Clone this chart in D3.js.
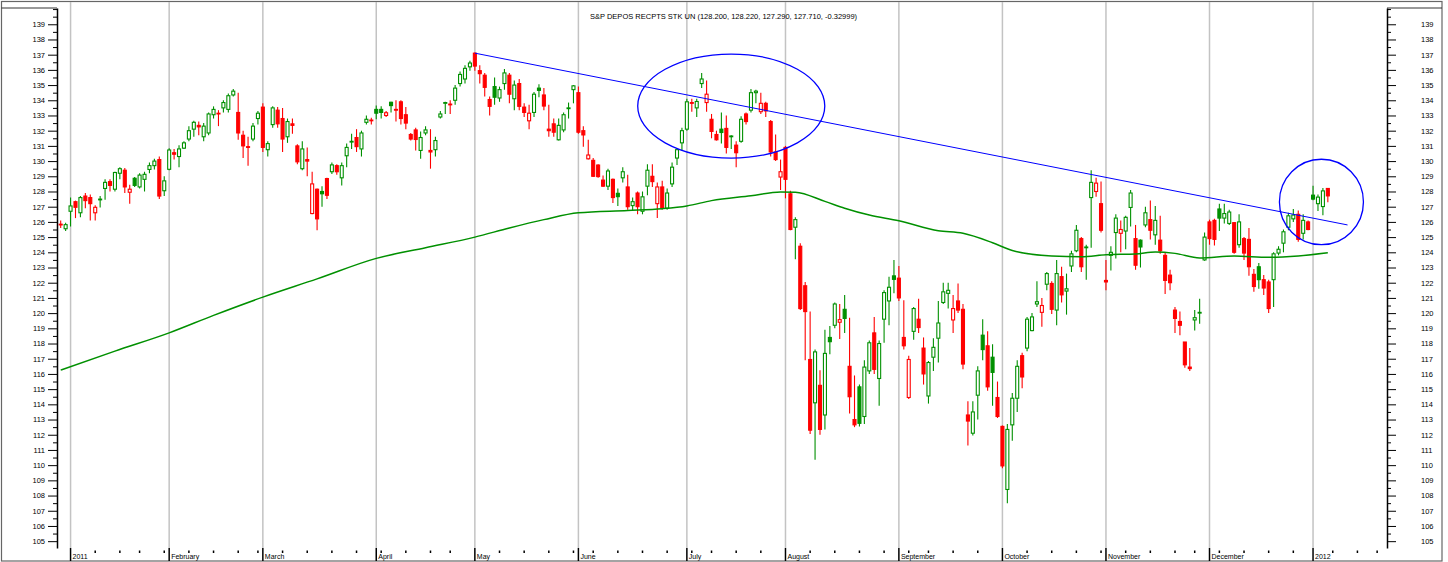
<!DOCTYPE html>
<html>
<head>
<meta charset="utf-8">
<script src="https://cdn.jsdelivr.net/npm/d3@7"></script>
<style>
  body { margin: 0; background: #fff; }
  svg { display: block; font-family: "Liberation Sans", Arial, sans-serif; }
</style>
</head>
<body>
<script>
const titulo = "S&P DEPOS RECPTS STK UN (128.200, 128.220, 127.290, 127.710, -0.32999)";

// Cierre del día anterior a la primera vela (para el color)
const cierrePrevio = 126.0;

// [fecha, apertura, máximo, mínimo, cierre]
const velas = [
  ["2010-12-30",125.85,126.1,125.6,125.8], ["2010-12-31",125.55,125.95,125.4,125.82],
  ["2011-01-03",126.7,127.6,125.7,127.05], ["2011-01-04",127.33,127.4,126.25,126.96],
  ["2011-01-05",126.6,127.7,126.3,127.6], ["2011-01-06",127.7,127.9,126.9,127.4],
  ["2011-01-07",127.6,127.8,126.1,127.2], ["2011-01-10",126.6,127.1,126.1,126.96],
  ["2011-01-11",127.45,127.7,126.95,127.5], ["2011-01-12",128.2,128.8,127.45,128.6],
  ["2011-01-13",128.65,128.8,128.0,128.4], ["2011-01-14",128.15,129.3,128.0,129.25],
  ["2011-01-18",129.2,129.6,128.8,129.5], ["2011-01-19",129.4,129.55,127.9,128.3],
  ["2011-01-20",127.95,128.45,127.2,128.15], ["2011-01-21",128.87,128.95,128.3,128.4],
  ["2011-01-24",128.3,129.2,128.2,129.08], ["2011-01-25",128.8,129.3,128.0,129.13],
  ["2011-01-26",129.45,129.9,129.2,129.7], ["2011-01-27",129.7,130.15,129.45,130.0],
  ["2011-01-28",130.1,130.3,127.5,127.7], ["2011-01-31",128.05,129.0,127.7,128.7],
  ["2011-02-01",129.46,130.85,129.4,130.73], ["2011-02-02",130.55,130.8,130.1,130.45],
  ["2011-02-03",130.3,131.05,129.6,130.8], ["2011-02-04",130.85,131.3,130.8,131.2],
  ["2011-02-07",131.45,132.3,131.3,132.0], ["2011-02-08",132.1,132.65,131.6,132.55],
  ["2011-02-09",132.35,132.6,131.7,132.25], ["2011-02-10",131.6,132.5,131.3,132.3],
  ["2011-02-11",131.85,133.2,131.7,133.1], ["2011-02-14",133.05,133.6,132.8,133.4],
  ["2011-02-15",133.15,133.35,132.3,133.1], ["2011-02-16",133.5,134.0,133.2,133.85],
  ["2011-02-17",133.4,134.45,133.2,134.3], ["2011-02-18",134.35,134.75,134.25,134.6],
  ["2011-02-22",133.2,134.5,131.4,131.85], ["2011-02-23",131.7,132.0,130.2,131.0],
  ["2011-02-24",130.95,131.6,129.7,130.9], ["2011-02-25",131.45,132.5,131.3,132.3],
  ["2011-02-28",132.8,133.3,132.4,133.15], ["2011-03-01",133.55,133.8,130.6,130.9],
  ["2011-03-02",130.75,131.3,130.3,131.15], ["2011-03-03",132.4,133.6,132.2,133.5],
  ["2011-03-04",133.35,133.55,132.2,132.45], ["2011-03-07",132.8,133.5,130.6,131.45],
  ["2011-03-08",131.6,132.8,131.2,132.6], ["2011-03-09",132.45,132.8,131.8,132.35],
  ["2011-03-10",131.0,131.1,129.8,129.95], ["2011-03-11",129.5,131.3,129.4,130.8],
  ["2011-03-14",130.1,130.9,129.0,130.0], ["2011-03-15",126.55,129.3,126.5,128.5],
  ["2011-03-16",128.15,128.2,125.45,126.2], ["2011-03-17",128.0,128.35,127.0,127.85],
  ["2011-03-18",128.85,128.9,127.5,127.75], ["2011-03-21",129.3,129.9,129.15,129.75],
  ["2011-03-22",129.7,129.8,129.1,129.3], ["2011-03-23",128.9,129.9,128.4,129.7],
  ["2011-03-24",130.35,131.15,129.6,130.9], ["2011-03-25",131.25,131.8,130.8,131.3],
  ["2011-03-28",131.55,132.1,130.6,130.95], ["2011-03-29",130.8,132.0,130.3,131.85],
  ["2011-03-30",132.55,133.0,132.4,132.75], ["2011-03-31",132.7,132.85,132.4,132.65],
  ["2011-04-01",133.4,133.65,132.75,133.15], ["2011-04-04",133.4,133.6,132.8,133.2],
  ["2011-04-05",133.0,133.3,132.9,133.18], ["2011-04-06",133.87,133.9,133.2,133.65],
  ["2011-04-07",133.4,134.0,132.6,133.35], ["2011-04-08",133.9,134.0,132.4,132.8],
  ["2011-04-11",133.05,133.55,132.1,132.5], ["2011-04-12",131.75,131.85,131.35,131.45],
  ["2011-04-13",132.05,132.2,130.7,131.42], ["2011-04-14",130.7,131.95,130.15,131.55],
  ["2011-04-15",131.85,132.3,131.7,132.05], ["2011-04-18",130.7,132.1,129.5,130.6],
  ["2011-04-19",130.75,131.6,130.3,131.35], ["2011-04-20",132.9,133.3,132.8,133.1],
  ["2011-04-21",133.8,133.9,133.1,133.85], ["2011-04-25",133.75,134.0,133.1,133.7],
  ["2011-04-26",134.0,135.0,133.7,134.8], ["2011-04-27",135.1,135.9,134.9,135.7],
  ["2011-04-28",135.4,136.3,135.1,136.1], ["2011-04-29",136.2,136.6,135.95,136.45],
  ["2011-05-02",137.1,137.15,135.95,136.25], ["2011-05-03",135.95,136.3,135.1,135.75],
  ["2011-05-04",135.65,135.8,134.25,134.85], ["2011-05-05",134.05,134.25,133.0,133.6],
  ["2011-05-06",134.9,135.5,133.7,134.2], ["2011-05-09",134.15,134.9,133.9,134.7],
  ["2011-05-10",135.1,136.05,134.7,135.8], ["2011-05-11",135.65,135.8,133.8,134.4],
  ["2011-05-12",134.1,135.3,133.35,135.0], ["2011-05-13",135.1,135.4,133.35,133.6],
  ["2011-05-16",133.55,133.8,132.9,133.2], ["2011-05-17",132.65,133.7,132.1,133.15],
  ["2011-05-18",133.2,134.55,132.9,134.4], ["2011-05-19",134.8,135.05,134.2,134.65],
  ["2011-05-20",134.35,134.8,133.35,133.62], ["2011-05-23",132.1,133.7,131.6,132.0],
  ["2011-05-24",132.45,132.8,131.6,131.9], ["2011-05-25",131.4,132.8,131.35,132.35],
  ["2011-05-26",132.05,133.2,131.9,133.05], ["2011-05-27",133.45,133.85,132.8,133.5],
  ["2011-05-31",134.7,135.0,133.8,134.95], ["2011-06-01",134.5,134.9,131.8,131.9],
  ["2011-06-02",132.0,132.3,130.95,131.72], ["2011-06-03",130.15,131.4,130.1,130.4],
  ["2011-06-06",130.05,130.2,128.95,129.0], ["2011-06-07",129.74,129.8,128.9,128.98],
  ["2011-06-08",128.75,129.05,128.3,128.35], ["2011-06-09",128.35,129.5,128.1,129.35],
  ["2011-06-10",128.8,128.85,127.25,127.6], ["2011-06-13",127.88,128.2,127.05,127.66],
  ["2011-06-14",128.9,129.6,128.6,129.3], ["2011-06-15",128.3,129.1,126.8,127.0],
  ["2011-06-16",127.07,127.6,126.75,127.33], ["2011-06-17",127.9,128.0,126.5,127.0],
  ["2011-06-20",126.7,128.0,126.5,127.65], ["2011-06-21",128.35,129.8,127.75,129.4],
  ["2011-06-22",129.0,129.8,128.3,128.65], ["2011-06-23",127.2,128.6,126.25,128.3],
  ["2011-06-24",128.3,128.7,126.8,126.9], ["2011-06-27",126.9,128.2,126.8,127.9],
  ["2011-06-28",128.5,129.9,128.3,129.6], ["2011-06-29",130.2,130.85,129.75,130.75],
  ["2011-06-30",131.2,132.2,130.7,132.0], ["2011-07-01",132.1,134.1,132.0,133.9],
  ["2011-07-05",133.85,134.1,133.25,133.8], ["2011-07-06",133.5,134.1,132.9,133.92],
  ["2011-07-07",135.1,135.8,134.8,135.4], ["2011-07-08",133.85,135.3,133.25,134.4],
  ["2011-07-11",132.75,133.1,131.5,131.95], ["2011-07-12",131.75,132.0,131.35,131.4],
  ["2011-07-13",132.1,133.2,131.15,131.88], ["2011-07-14",132.15,133.0,130.5,130.9],
  ["2011-07-15",131.6,131.7,130.8,131.65], ["2011-07-18",131.05,131.3,129.6,130.55],
  ["2011-07-19",131.3,132.95,131.2,132.75], ["2011-07-20",133.1,133.2,132.4,132.6],
  ["2011-07-21",133.35,134.75,133.2,134.5], ["2011-07-22",134.5,134.7,133.8,134.6],
  ["2011-07-25",133.25,134.5,133.1,133.8], ["2011-07-26",133.8,133.9,132.9,133.3],
  ["2011-07-27",132.6,132.7,130.3,130.6], ["2011-07-28",130.6,131.75,130.0,130.1],
  ["2011-07-29",128.95,130.1,128.1,129.3], ["2011-08-01",130.9,131.0,127.55,128.8],
  ["2011-08-02",127.85,128.05,125.45,125.5], ["2011-08-03",125.65,126.3,123.55,126.15],
  ["2011-08-04",124.4,124.6,120.2,120.3], ["2011-08-05",121.8,122.05,116.9,120.1],
  ["2011-08-08",116.95,120.1,112.05,112.3], ["2011-08-09",114.1,117.6,110.35,117.45],
  ["2011-08-10",115.25,116.25,112.0,112.35], ["2011-08-11",113.3,118.9,112.35,117.35],
  ["2011-08-12",118.4,119.15,117.3,118.12], ["2011-08-15",119.2,120.7,119.0,120.6],
  ["2011-08-16",119.4,120.6,118.3,119.57], ["2011-08-17",120.25,121.2,118.7,119.65],
  ["2011-08-18",116.5,119.7,113.4,114.5], ["2011-08-19",113.0,115.9,112.5,112.65],
  ["2011-08-22",115.15,115.3,112.55,112.75], ["2011-08-23",113.2,116.9,112.7,116.45],
  ["2011-08-24",116.2,118.2,116.0,118.05], ["2011-08-25",118.7,119.75,116.0,116.3],
  ["2011-08-26",115.7,118.2,113.9,118.0], ["2011-08-29",119.6,121.5,118.05,121.35],
  ["2011-08-30",120.8,122.4,119.2,121.7], ["2011-08-31",122.45,123.5,121.3,122.22],
  ["2011-09-01",122.3,123.1,120.8,121.0], ["2011-09-02",118.4,120.85,117.6,117.85],
  ["2011-09-06",114.45,117.2,114.35,116.95], ["2011-09-07",118.8,120.4,118.25,120.3],
  ["2011-09-08",119.6,120.95,118.7,119.05], ["2011-09-09",117.7,118.4,115.3,116.0],
  ["2011-09-12",114.55,116.85,114.05,116.75], ["2011-09-13",117.1,118.35,116.2,117.75],
  ["2011-09-14",118.35,120.8,116.75,119.35], ["2011-09-15",120.7,122.0,120.6,121.4],
  ["2011-09-16",121.3,122.0,120.3,121.5], ["2011-09-19",119.55,121.2,118.7,120.3],
  ["2011-09-20",120.8,121.95,120.0,120.2], ["2011-09-21",120.25,120.6,116.3,116.65],
  ["2011-09-22",113.3,114.2,111.3,112.9], ["2011-09-23",112.1,114.2,111.95,113.5],
  ["2011-09-26",114.6,116.5,113.0,116.2], ["2011-09-27",118.55,119.6,116.9,117.6],
  ["2011-09-28",117.85,118.8,114.9,115.15], ["2011-09-29",117.1,117.95,113.9,116.1],
  ["2011-09-30",114.45,115.5,113.1,113.2], ["2011-10-03",112.55,112.6,109.8,109.95],
  ["2011-10-04",108.4,112.7,107.5,112.35], ["2011-10-05",112.65,114.75,111.6,114.4],
  ["2011-10-06",114.4,116.9,113.5,116.5], ["2011-10-07",117.2,117.4,115.05,115.8],
  ["2011-10-10",117.7,119.75,117.5,119.6], ["2011-10-11",118.85,120.0,118.8,119.75],
  ["2011-10-12",120.6,122.1,120.4,120.75], ["2011-10-13",120.05,121.0,119.1,120.5],
  ["2011-10-14",121.9,122.7,121.5,122.6], ["2011-10-17",121.95,122.1,119.95,120.25],
  ["2011-10-18",120.2,123.5,119.2,122.6], ["2011-10-19",122.4,123.05,120.7,121.2],
  ["2011-10-20",121.45,122.6,119.9,121.6], ["2011-10-21",123.1,124.1,122.7,123.9],
  ["2011-10-24",124.1,125.8,124.0,125.45], ["2011-10-25",124.9,125.0,122.7,123.05],
  ["2011-10-26",124.3,124.5,122.2,124.35], ["2011-10-27",127.6,129.4,124.3,128.6],
  ["2011-10-28",128.0,128.9,127.65,128.55], ["2011-10-31",127.2,128.65,125.3,125.45],
  ["2011-11-01",122.15,123.5,121.5,122.05], ["2011-11-02",123.8,124.4,122.8,124.0],
  ["2011-11-03",125.3,126.5,123.6,126.25], ["2011-11-04",125.25,126.1,124.0,125.5],
  ["2011-11-07",125.4,126.4,124.2,126.3], ["2011-11-08",126.95,128.1,125.7,127.9],
  ["2011-11-09",124.9,125.8,122.85,123.15], ["2011-11-10",124.8,124.85,123.0,124.35],
  ["2011-11-11",125.8,127.0,125.65,126.6], ["2011-11-14",126.15,127.4,124.85,125.45],
  ["2011-11-15",125.15,127.05,124.5,126.1], ["2011-11-16",124.8,126.4,123.9,124.1],
  ["2011-11-17",123.8,124.0,121.25,122.15], ["2011-11-18",122.5,122.85,121.5,122.0],
  ["2011-11-21",120.2,120.4,118.7,119.65], ["2011-11-22",119.45,120.1,118.55,119.2],
  ["2011-11-23",118.1,118.1,116.4,116.6], ["2011-11-25",116.45,117.7,116.2,116.35],
  ["2011-11-28",119.55,120.2,118.85,119.7], ["2011-11-29",120.0,120.95,119.3,120.05],
  ["2011-11-30",123.5,125.3,123.45,125.0], ["2011-12-01",126.0,126.15,124.5,124.9],
  ["2011-12-02",126.1,126.2,124.45,124.85], ["2011-12-05",126.85,127.2,125.4,126.25],
  ["2011-12-06",126.25,127.2,125.9,126.55], ["2011-12-07",125.9,126.8,125.8,126.65],
  ["2011-12-08",125.95,126.0,123.9,124.0], ["2011-12-09",124.5,126.5,124.3,126.0],
  ["2011-12-12",124.9,125.0,123.5,123.95], ["2011-12-13",124.85,125.6,122.45,123.05],
  ["2011-12-14",122.55,122.9,121.4,121.75], ["2011-12-15",123.05,123.3,121.6,122.2],
  ["2011-12-16",122.2,122.5,121.2,121.65], ["2011-12-19",122.05,122.2,120.0,120.3],
  ["2011-12-20",122.2,124.0,120.4,123.9], ["2011-12-21",123.95,124.4,123.8,124.2],
  ["2011-12-22",124.6,125.5,124.0,125.35], ["2011-12-23",125.65,126.6,125.45,126.4],
  ["2011-12-27",126.2,126.85,126.0,126.45], ["2011-12-28",126.5,126.75,124.7,124.85],
  ["2011-12-29",125.25,126.5,124.85,126.1], ["2011-12-30",126.0,126.1,125.45,125.5],
  ["2012-01-03",127.76,128.38,127.43,127.5], ["2012-01-04",127.2,127.81,126.71,127.63],
  ["2012-01-05",127.01,128.23,126.43,128.04], ["2012-01-06",128.2,128.22,127.29,127.71]
];

// Media móvil: índice de la vela y valor
const mediaIdx = [0, 11, 22, 31, 41, 52, 64, 74, 84, 91, 98, 105, 115, 122, 127, 132, 140, 146, 149, 155,
  159, 164, 170, 178, 183, 189, 193, 201, 207, 212, 218, 222, 226, 231, 238, 245, 251, 257];
const mediaValor = [116.25, 117.5, 118.7, 119.85, 121.05, 122.25, 123.6, 124.3, 125.0, 125.6, 126.15, 126.6,
  126.75, 126.87, 127.05, 127.4, 127.72, 127.97, 127.95, 127.35, 126.9, 126.45, 126.08, 125.42, 125.25,
  124.63, 124.12, 123.76, 123.71, 123.84, 123.89, 124.02, 123.93, 123.63, 123.76, 123.67, 123.76, 123.97];

// Línea de tendencia y elipses dibujadas a mano
const tendenciaIdx = [84, 261];
const tendenciaValor = [137.1, 125.8];
const elipseIdx = [136.0, 255.7];
const elipseValor = [133.62, 127.31];
const elipseRadioIdx = [18.97, 8.52];
const elipseRadioValor = [3.42, 2.81];

// Eje de tiempo
const etiquetasMes = ["2011", "February", "March", "April", "May", "June", "July", "August",
  "September", "October", "November", "December", "2012"];
const fechasMes = ["2011-01-03", "2011-02-01", "2011-03-01", "2011-04-01", "2011-05-02", "2011-06-01",
  "2011-07-01", "2011-08-01", "2011-09-01", "2011-10-03", "2011-11-01", "2011-12-01", "2012-01-03"];
const semanasExtra = [258, 263, 267];

// Eje de precios
const ticksY = [105, 106, 107, 108, 109, 110, 111, 112, 113, 114, 115, 116, 117, 118, 119, 120, 121, 122,
  123, 124, 125, 126, 127, 128, 129, 130, 131, 132, 133, 134, 135, 136, 137, 138, 139];
const ticksMenores = ticksY.map(t => t + 0.5);

const verde = "#009000";
const rojo = "#ff0000";
const azul = "#0000ff";

const svg = d3.select("body")
  .append("svg")
  .attr("width", 1448)
  .attr("height", 562);

const escalaX = d3.scaleLinear().domain([-0.75, 269]).range([57, 1387]);
const escalaY = d3.scaleLinear().domain([104.55, 140.07]).range([548, 8]);

const indicePorFecha = new Map(velas.map((v, i) => [v[0], i]));

// Marco
svg.append("rect")
  .attr("x", 1.5).attr("y", 1.5)
  .attr("width", 1440.5).attr("height", 559.5)
  .attr("fill", "none")
  .attr("stroke", "#666")
  .attr("stroke-width", 1.2);

svg.append("line")
  .attr("x1", 1.5).attr("x2", 57).attr("y1", 8).attr("y2", 8)
  .attr("stroke", "#333");
svg.append("line")
  .attr("x1", 1387).attr("x2", 1442).attr("y1", 8).attr("y2", 8)
  .attr("stroke", "#333");

// Líneas de mes
const meses = svg.append("g")
  .selectAll("g")
  .data(fechasMes)
  .join("g")
  .attr("transform", f => `translate(${escalaX(indicePorFecha.get(f))},0)`);

meses.append("line")
  .attr("y1", 2).attr("y2", 548)
  .attr("stroke", "#c3c3c3")
  .attr("stroke-width", 1.5);

meses.append("line")
  .attr("y1", 548).attr("y2", 561)
  .attr("stroke", "#000")
  .attr("stroke-width", 1.5);

meses.append("text")
  .attr("x", 2)
  .attr("y", 558.5)
  .attr("font-size", 7)
  .attr("fill", "#000")
  .text((f, i) => etiquetasMes[i]);

// Marcas semanales: primer día de cada semana que no abre mes
const inicioSemana = [];
velas.forEach((v, i) => {
  if (i === 0) return;
  const hoy = new Date(v[0] + "T00:00:00");
  const ayer = new Date(velas[i - 1][0] + "T00:00:00");
  const nuevaSemana = hoy.getDay() < ayer.getDay() || (hoy - ayer) / 864e5 >= 7;
  const nuevoMes = hoy.getMonth() !== ayer.getMonth();
  if (nuevaSemana && !nuevoMes) inicioSemana.push(i);
});

svg.append("g")
  .selectAll("rect")
  .data(inicioSemana.concat(semanasExtra))
  .join("rect")
  .attr("x", i => escalaX(i) - 0.75)
  .attr("y", 550.5)
  .attr("width", 1.5)
  .attr("height", 2.5)
  .attr("fill", "#000");

// Ejes de precios
function estiloEje(g) {
  g.attr("font-size", 7.5).attr("font-family", null);
  g.select(".domain").attr("stroke-width", 1.5);
  g.selectAll("text").attr("fill", "#000");
}

svg.append("g")
  .attr("transform", "translate(57,0)")
  .call(d3.axisLeft(escalaY).tickValues(ticksY).tickSize(9).tickPadding(3).tickSizeOuter(0))
  .call(estiloEje);

svg.append("g")
  .attr("transform", "translate(57,0)")
  .call(d3.axisLeft(escalaY).tickValues(ticksMenores.concat([140])).tickSize(4).tickFormat("").tickSizeOuter(0))
  .call(g => g.select(".domain").remove());

svg.append("g")
  .attr("transform", "translate(1387,0)")
  .call(d3.axisRight(escalaY).tickValues(ticksY).tickSize(9).tickPadding(25).tickSizeOuter(0))
  .call(estiloEje);

svg.append("g")
  .attr("transform", "translate(1387,0)")
  .call(d3.axisRight(escalaY).tickValues(ticksMenores.concat([140])).tickSize(4).tickFormat("").tickSizeOuter(0))
  .call(g => g.select(".domain").remove());

// Título
svg.append("text")
  .attr("x", 590)
  .attr("y", 18.5)
  .attr("font-size", 7.5)
  .attr("fill", "#000")
  .text(titulo);

// Velas
const datos = velas.map((v, i) => ({
  i, fecha: v[0], o: v[1], h: v[2], l: v[3], c: v[4],
  previo: i ? velas[i - 1][4] : cierrePrevio
}));
const colorVela = d => d.c >= d.previo ? verde : rojo;
const hueca = d => d.c > d.o;
const anchoCuerpo = 3;

const G = svg.append("g")
  .selectAll("g")
  .data(datos, d => d.fecha)
  .join("g")
  .attr("transform", d => `translate(${escalaX(d.i)},0)`);

G.append("line")
  .attr("y1", d => escalaY(d.h))
  .attr("y2", d => escalaY(d.l))
  .attr("stroke", colorVela)
  .attr("stroke-width", 1.1);

G.append("rect")
  .attr("x", -anchoCuerpo / 2)
  .attr("y", d => escalaY(Math.max(d.o, d.c)))
  .attr("width", anchoCuerpo)
  .attr("height", d => Math.abs(escalaY(d.o) - escalaY(d.c)))
  .attr("fill", d => hueca(d) ? "#fff" : colorVela(d))
  .attr("stroke", colorVela)
  .attr("stroke-width", 1.1);

// Media móvil
const puntosMedia = mediaIdx.map((x, k) => [x, mediaValor[k]]);
svg.append("path")
  .datum(puntosMedia)
  .attr("fill", "none")
  .attr("stroke", verde)
  .attr("stroke-width", 1.5)
  .attr("d", d3.line()
    .x(p => escalaX(p[0]))
    .y(p => escalaY(p[1]))
    .curve(d3.curveMonotoneX));

// Tendencia
svg.append("line")
  .attr("x1", escalaX(tendenciaIdx[0]))
  .attr("y1", escalaY(tendenciaValor[0]))
  .attr("x2", escalaX(tendenciaIdx[1]))
  .attr("y2", escalaY(tendenciaValor[1]))
  .attr("stroke", azul)
  .attr("stroke-width", 1);

// Elipses
svg.append("g")
  .selectAll("ellipse")
  .data(elipseIdx)
  .join("ellipse")
  .attr("cx", (c, k) => escalaX(c))
  .attr("cy", (c, k) => escalaY(elipseValor[k]))
  .attr("rx", (c, k) => escalaX(c + elipseRadioIdx[k]) - escalaX(c))
  .attr("ry", (c, k) => escalaY(elipseValor[k] - elipseRadioValor[k]) - escalaY(elipseValor[k]))
  .attr("fill", "none")
  .attr("stroke", azul)
  .attr("stroke-width", 1.3);
</script>
</body>
</html>
